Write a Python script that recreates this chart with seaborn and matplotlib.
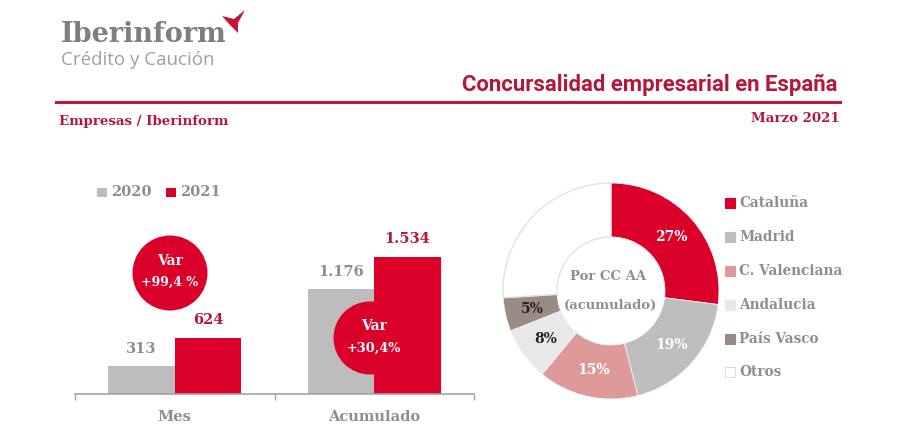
import matplotlib

matplotlib.use("Agg")
import matplotlib.pyplot as plt
import pandas as pd
import seaborn as sns
from matplotlib.patches import Circle, Polygon, Rectangle
from matplotlib.transforms import Affine2D

periods = ["Mes", "Acumulado"]
values_2020 = [313, 1176]
values_2021 = [624, 1534]
labels_2020 = ["313", "1.176"]
labels_2021 = ["624", "1.534"]

regions = ["Cataluña", "Madrid", "C. Valenciana", "Andalucia", "País Vasco", "Otros"]
shares = [27, 19, 15, 8, 5, 26]

RED = "#da0029"
DARK_RED = "#b5173b"
GREY = "#bdbdbd"
TEXT_GREY = "#8e8e8e"
region_colors = [RED, GREY, "#dd9a98", "#e8e8e8", "#9b8b85", "white"]
pct_colors = ["white", "white", "white", "#222222", "#222222", "none"]

SERIF = "DejaVu Serif"
SANS = "Roboto"

sns.set_theme(style="white")
fig = plt.figure(figsize=(9, 4.33), dpi=100, facecolor="white")
# pixel coordinates of the picture, origin top left
px = Affine2D().scale(1, -1).translate(0, 433)


def axes_px(left, top, right, bottom):
    return fig.add_axes([left / 900, 1 - bottom / 433, (right - left) / 900, (bottom - top) / 433])


def label(x, y, s, **kw):
    kw.setdefault("family", SERIF)
    kw.setdefault("weight", "bold")
    kw.setdefault("va", "center")
    fig.text(x, y, s, transform=px, **kw)


# bars
df = pd.DataFrame({
    "periodo": periods * 2,
    "anio": ["2020"] * 2 + ["2021"] * 2,
    "empresas": values_2020 + values_2021,
})
ax = axes_px(75, 160, 474, 394)
sns.barplot(
    data=df, x="periodo", y="empresas", hue="anio",
    palette={"2020": GREY, "2021": RED}, width=0.667, saturation=1,
    legend=False, linewidth=0, ax=ax,
)
ax.set_xlim(-0.5, 1.5)
ax.set_ylim(0, 2620)
ax.set_xlabel("")
ax.set_ylabel("")
ax.set_yticks([])
ax.patch.set_alpha(0)
for side in ["top", "left", "right"]:
    ax.spines[side].set_visible(False)
ax.spines["bottom"].set_color("#a3a3a3")
ax.spines["bottom"].set_linewidth(1.2)
ax.set_xticks([-0.5, 0.5, 1.5], minor=True)
ax.tick_params(axis="x", which="minor", bottom=True, length=4, width=1, color="#a3a3a3")
ax.tick_params(axis="x", which="major", bottom=False, pad=5.5)
ax.set_xticks([0, 1], periods, family=SERIF, weight="bold", fontsize=10.5, color=TEXT_GREY)
ax.bar_label(ax.containers[0], labels=labels_2020, padding=7.5, family=SERIF, weight="bold",
             fontsize=10.5, color=TEXT_GREY)
ax.bar_label(ax.containers[1], labels=labels_2021, padding=8, family=SERIF, weight="bold",
             fontsize=10.5, color=DARK_RED)

# donut
ax2 = axes_px(503, 183, 719, 399)
wedges, _, pcts = ax2.pie(
    shares, colors=region_colors, startangle=90, counterclock=False, radius=1,
    autopct="%.0f%%", pctdistance=0.75,
    wedgeprops={"width": 0.5, "edgecolor": "#f4f4f4", "linewidth": 0.6},
    textprops={"family": SERIF, "weight": "bold", "fontsize": 10},
)
ax2.set_xlim(-1, 1)
ax2.set_ylim(-1, 1)
for w in wedges:
    w.set_clip_on(False)
wedges[-1].set_edgecolor("#e2e2e2")
wedges[-1].set_linewidth(1)
for t, c in zip(pcts, pct_colors):
    t.set_color(c)
label(608, 277, "Por CC AA", ha="center", fontsize=9.5, color=TEXT_GREY)
label(610, 305, "(acumulado)", ha="center", fontsize=9.5, color=TEXT_GREY)

# legend of the donut
legend_y = [203, 237, 271, 305, 339, 372]
for name, color, y in zip(regions, region_colors, legend_y):
    fig.add_artist(Rectangle((725, y - 5), 10, 10, transform=px, facecolor=color,
                             edgecolor="#dddddd" if color == "white" else color, linewidth=0.8))
    label(739, y, name, fontsize=9.8, color=TEXT_GREY)

# legend of the bars
fig.add_artist(Rectangle((97, 188), 10, 9, transform=px, facecolor=GREY, edgecolor=GREY, linewidth=0))
label(111, 192, "2020", fontsize=10.5, color=TEXT_GREY)
fig.add_artist(Rectangle((166, 188), 10, 9, transform=px, facecolor=RED, edgecolor=RED, linewidth=0))
label(180, 192, "2021", fontsize=10.5, color=TEXT_GREY)

# variation badges
fig.add_artist(Circle((170, 273), 37.5, transform=px, facecolor=RED, edgecolor="none"))
label(170, 261, "Var", ha="center", fontsize=10, color="white")
label(170, 282, "+99,4 %", ha="center", fontsize=9, color="white")
fig.add_artist(Circle((370, 338), 36.5, transform=px, facecolor=RED, edgecolor="none"))
label(374, 326, "Var", ha="center", fontsize=10, color="white")
label(374, 348, "+30,4%", ha="center", fontsize=9.3, color="white")

# header
fig.add_artist(Rectangle((55, 100.5), 787, 3.5, transform=px, facecolor="#c8123a", edgecolor="none"))
label(838, 85, "Concursalidad empresarial en España", ha="right", family=SANS, fontsize=15.9,
      color=DARK_RED)
label(59, 121, "Empresas / Iberinform", fontsize=9.6, color=DARK_RED)
label(840, 118, "Marzo 2021", ha="right", fontsize=9.6, color=DARK_RED)

# logo
label(61, 34, "Iberinform", fontsize=19.5, color="#7f7f7f")
label(61, 60, "Crédito y Caución", fontsize=13.5, color="#a0a0a0", family="Open Sans", weight="normal")
fig.add_artist(Polygon([(222, 16), (234, 19), (245, 10), (238, 23), (238, 33), (230, 25)],
                       closed=True, transform=px, facecolor="#c8123a", edgecolor="none"))

fig.savefig("out.png", dpi=100)
